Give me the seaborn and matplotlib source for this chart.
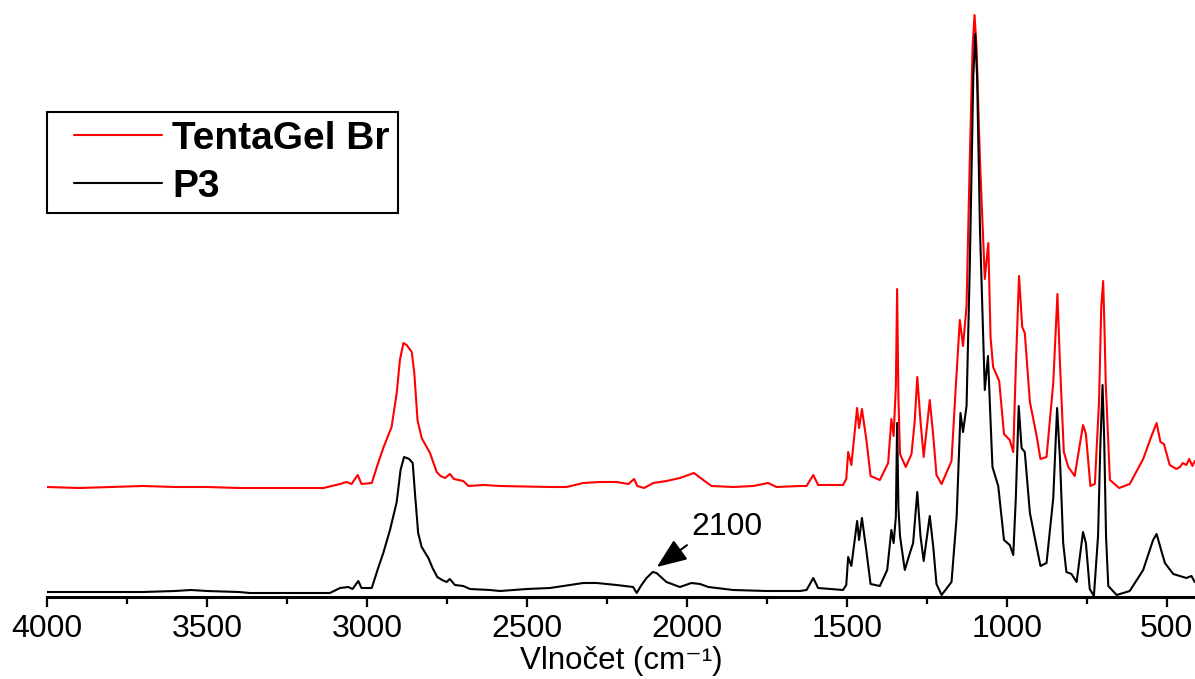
import numpy as np
import pandas as pd
import matplotlib
matplotlib.use("Agg")
import matplotlib.pyplot as plt
import seaborn as sns
from matplotlib.lines import Line2D
from matplotlib.legend_handler import HandlerLine2D
from matplotlib.ticker import MultipleLocator

# ---- data (wavenumber cm^-1, absorbance in arbitrary units) ----
p3_wn = [4000, 3900, 3800, 3700, 3600, 3550, 3500, 3400, 3366, 3200, 3116, 3084, 3058, 3045, 3027,
         3017, 2985, 2965, 2949, 2928, 2907, 2895, 2884, 2868, 2857, 2850, 2840, 2829, 2808, 2795,
         2780, 2765, 2751, 2741,
         2725, 2699, 2678, 2616, 2584, 2500, 2428, 2324, 2282, 2220, 2168, 2157, 2142, 2126, 2107,
         2095, 2064, 2022, 1986, 1959, 1933, 1855, 1751, 1647, 1626, 1605, 1590, 1512, 1502, 1496,
         1486, 1468, 1462, 1453, 1439, 1426, 1397, 1374, 1361, 1354, 1347, 1343, 1339, 1334, 1319,
         1303, 1293, 1280, 1270, 1260, 1241, 1230, 1220, 1204, 1173, 1157, 1145, 1137, 1126, 1116,
         1105, 1099, 1093, 1084, 1069, 1059, 1051, 1045, 1027, 1009, 991, 980, 972, 963, 954,
         944, 928, 907, 895, 876, 855, 843, 834, 824, 814, 798, 782, 762, 753, 741,
         728, 715, 708, 701, 696, 690, 683, 657, 616, 574, 543, 532, 517, 506, 480,
         439, 423, 413]
p3_abs = [5, 5, 5, 5, 6, 7, 6, 5, 4, 4, 4, 9, 10, 8, 16,
          9, 9, 29, 44, 67, 95, 127, 140, 138, 134, 104, 64, 50, 39, 29,
          20, 17, 15, 18,
          12, 11, 8, 7, 6, 8, 9, 14, 14, 12, 10, 4, 12, 19, 25,
          24, 15, 10, 14, 13, 10, 7, 6, 6, 7, 19, 9, 7, 12, 40,
          31, 76, 57, 79, 46, 13, 11, 27, 67, 54, 80, 174, 90, 61, 27,
          44, 54, 105, 61, 36, 81, 50, 13, 2, 15, 80, 184, 165, 191, 329,
          520, 563, 520, 367, 207, 241, 176, 130, 111, 57, 52, 42, 99, 191, 149,
          145, 84, 50, 31, 34, 99, 189, 138, 54, 25, 23, 15, 65, 54, 8,
          1, 61, 150, 212, 160, 60, 11, 2, 6, 27, 57, 63, 46, 34, 23,
          19, 21, 15]

tg_wn = [4000, 3900, 3800, 3700, 3600, 3500, 3400, 3366, 3136, 3084, 3064, 3048, 3029, 3017, 2985,
         2965, 2949, 2923, 2907, 2897, 2886, 2876, 2860, 2852, 2842, 2829, 2803, 2782, 2770, 2756,
         2741, 2728, 2699,
         2683, 2636, 2584, 2428, 2376, 2324, 2272, 2220, 2183, 2165, 2155, 2134, 2105, 2064, 2022,
         1978, 1949, 1923, 1855, 1793, 1746, 1720, 1647, 1626, 1605, 1590, 1512, 1502, 1496, 1486,
         1468, 1462, 1453, 1439, 1426, 1397, 1371, 1361, 1354, 1347, 1343, 1339, 1334, 1316, 1298,
         1288, 1280, 1270, 1260, 1241, 1230, 1220, 1204, 1173, 1159, 1147, 1137, 1126, 1116, 1107,
         1101, 1095, 1084, 1069, 1058, 1051, 1043, 1024, 1009, 991, 980, 972, 962, 952, 944,
         928, 907, 895, 876, 855, 842, 834, 822, 808, 788, 762, 753, 739, 725, 712,
         705, 699, 695, 691, 678, 649, 616, 574, 548, 532, 520, 509, 491, 470, 459,
         450, 439, 430, 420, 413]
tg_abs = [110, 109, 110, 111, 110, 110, 109, 109, 109, 113, 115, 113, 122, 113, 114,
          134, 149, 170, 204, 237, 254, 252, 245, 224, 177, 159, 144, 125, 121, 119,
          123, 118, 116,
          111, 112, 111, 110, 110, 114, 115, 115, 113, 118, 111, 109, 114, 116, 119,
          124, 117, 111, 110, 111, 114, 110, 111, 111, 122, 112, 112, 118, 145, 132,
          189, 169, 188, 157, 121, 117, 134, 178, 161, 210, 308, 200, 143, 130, 143,
          176, 220, 176, 140, 197, 161, 122, 113, 136, 214, 277, 251, 291, 436, 551,
          582, 551, 436, 318, 354, 260, 230, 216, 163, 157, 145, 230, 321, 270, 264,
          195, 161, 138, 140, 214, 303, 233, 145, 130, 121, 172, 163, 111, 113, 195,
          290, 316, 270, 214, 117, 109, 113, 138, 161, 174, 155, 153, 132, 128, 130,
          134, 132, 138, 131, 136]

labels = ["TentaGel Br", "P3"]
colors = ["#ff0000", "#000000"]
xlabel = "Vlnočet (cm\u207b\u00b9)"
annot_text = "2100"
annot_peak = (2094, 30)
annot_pos = (1875, 70)

df = pd.concat([
    pd.DataFrame({"wn": tg_wn, "A": tg_abs, "sample": labels[0]}),
    pd.DataFrame({"wn": p3_wn, "A": p3_abs, "sample": labels[1]}),
])

sns.set_style("ticks")
plt.rcParams["font.family"] = ["Liberation Sans", "DejaVu Sans"]
plt.rcParams["text.color"] = "black"
plt.rcParams["axes.labelcolor"] = "black"
plt.rcParams["xtick.color"] = "black"

W, H = 1195, 679
fig = plt.figure(figsize=(W / 100, H / 100), dpi=100)
ax = fig.add_axes([47 / W, 82 / H, (W - 47) / W, 597 / H])

sns.lineplot(data=df, x="wn", y="A", hue="sample", palette=dict(zip(labels, colors)),
             hue_order=labels, estimator=None, sort=True, linewidth=1.5, ax=ax, legend=False)

ax.set_xlim(4000, 412)
ax.set_ylim(0, 597)
ax.xaxis.set_major_locator(MultipleLocator(500))
ax.xaxis.set_minor_locator(MultipleLocator(250))
ax.tick_params(axis="x", which="major", direction="out", length=7.5, width=1.6,
               labelsize=23, pad=5, color="black", labelcolor="black")
ax.tick_params(axis="x", which="minor", direction="out", length=5, width=1.6, color="black")
ax.set_yticks([])
ax.set_ylabel("")
ax.set_xlabel(xlabel, fontsize=22.5, labelpad=1, color="black")
for s in ["top", "left", "right"]:
    ax.spines[s].set_visible(False)
ax.spines["bottom"].set_linewidth(2.2)
ax.spines["bottom"].set_color("black")

ax.annotate(annot_text, xy=annot_peak, xytext=annot_pos, ha="center", va="center",
            fontsize=23, color="black",
            arrowprops=dict(arrowstyle="-|>,head_length=0.8,head_width=0.32", color="black",
                            lw=1.5, relpos=(0, 0), shrinkA=1, shrinkB=0))

handles = [Line2D([], [], color=c, lw=1.5) for c in colors]
leg = ax.legend(handles, labels, loc="upper left", bbox_to_anchor=(0, (597 - 112) / 597),
                borderaxespad=0, frameon=True, fancybox=False, framealpha=1,
                edgecolor="black", prop={"weight": "bold", "size": 28},
                handlelength=2.735, handletextpad=0.26, borderpad=0.22, labelspacing=0.31,
                handler_map={Line2D: HandlerLine2D(xpad=0.47)})
leg.get_frame().set_linewidth(1.5)
for t in leg.get_texts():
    t.set_color("black")

fig.savefig("out.png", dpi=100)
